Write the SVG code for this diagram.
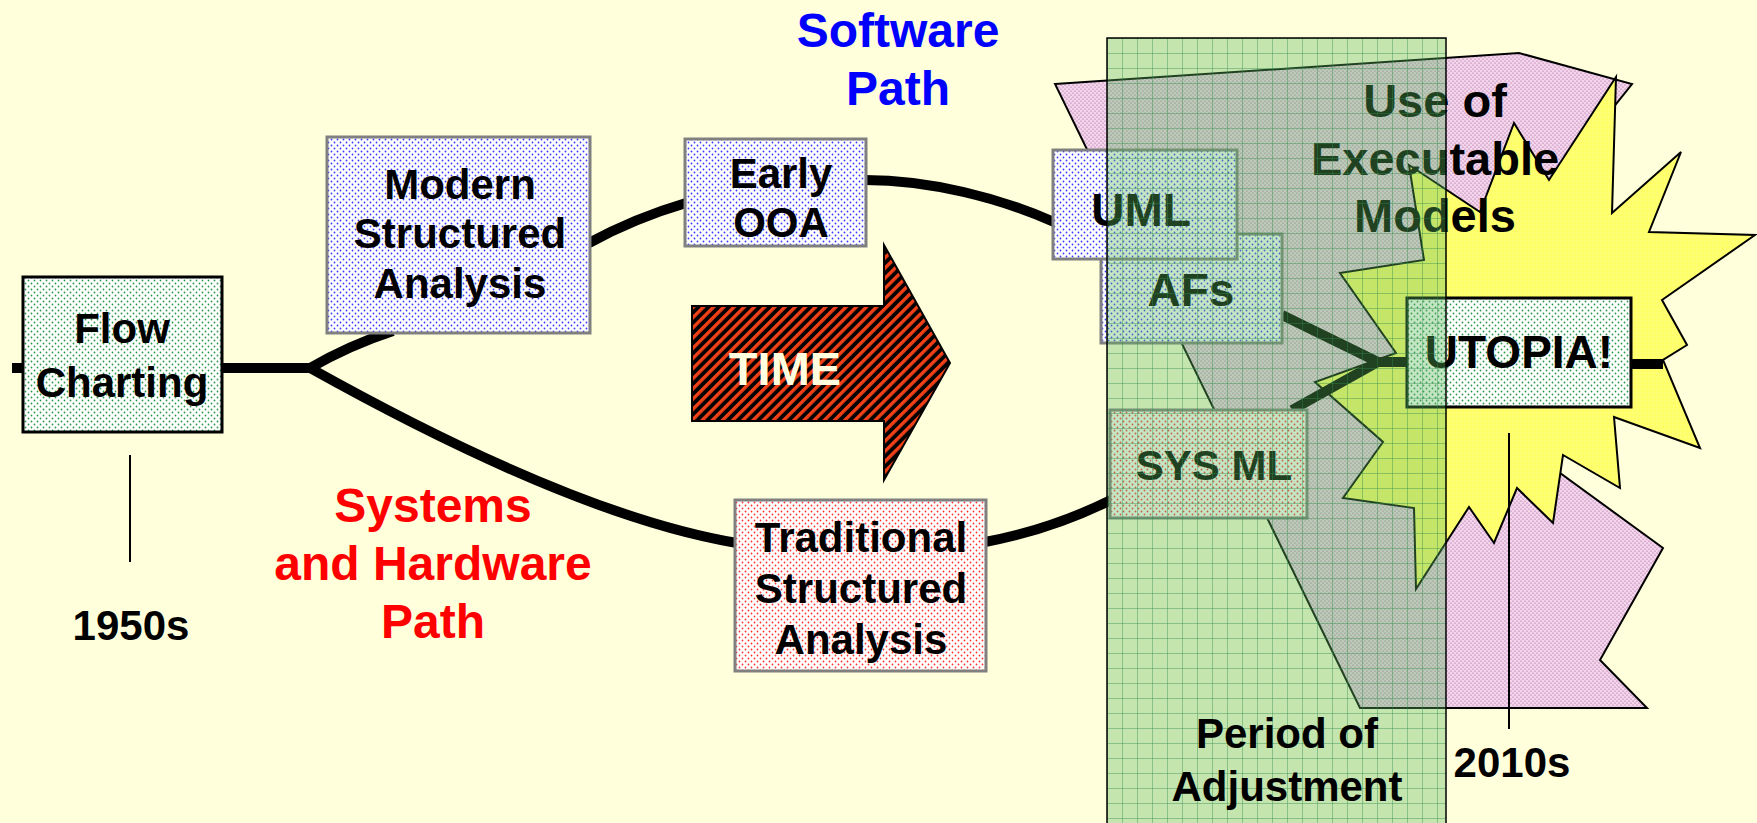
<svg xmlns="http://www.w3.org/2000/svg" width="1757" height="823" viewBox="0 0 1757 823">
<defs>
<style>
.t{font-family:"Liberation Sans",Arial,sans-serif;font-weight:bold;text-anchor:middle}
.n42{font-size:42px}
.n46{font-size:46px}
.n48{font-size:48px}
.conn{fill:none;stroke:#000;stroke-width:10}
.gbox{stroke:#808080;stroke-width:3}
.kbox{stroke:#000;stroke-width:3}
.tick{stroke:#000;stroke-width:2}
</style>
<pattern id="dGreen" width="6" height="6" patternUnits="userSpaceOnUse">
<rect width="6" height="6" fill="#fff"/>
<circle cx="1.5" cy="1.5" r="0.9" fill="#2a9a4a"/>
<circle cx="4.5" cy="4.5" r="0.9" fill="#2a9a4a"/>
</pattern>
<pattern id="dBlue" width="6" height="6" patternUnits="userSpaceOnUse">
<rect width="6" height="6" fill="#fff"/>
<circle cx="1.5" cy="1.5" r="0.9" fill="#3a3aff"/>
<circle cx="4.5" cy="4.5" r="0.9" fill="#3a3aff"/>
</pattern>
<pattern id="dRed" width="6" height="6" patternUnits="userSpaceOnUse">
<rect width="6" height="6" fill="#fff"/>
<circle cx="1.5" cy="1.5" r="0.9" fill="#ff3333"/>
<circle cx="4.5" cy="4.5" r="0.9" fill="#ff3333"/>
</pattern>
<pattern id="dPink" width="4" height="4" patternUnits="userSpaceOnUse">
<rect width="4" height="4" fill="#f3d6ea"/>
<circle cx="1" cy="1" r="0.6" fill="#a04aa0"/>
<circle cx="3" cy="3" r="0.6" fill="#a04aa0"/>
</pattern>
<pattern id="dYellow" width="4" height="4" patternUnits="userSpaceOnUse">
<rect width="4" height="4" fill="#ffff6a"/>
<circle cx="1" cy="1" r="0.6" fill="#ffffb0"/>
</pattern>
<pattern id="stripes" width="7.2" height="7.2" patternUnits="userSpaceOnUse" patternTransform="rotate(45)">
<rect width="7.2" height="7.2" fill="#000"/>
<rect x="0" width="3.4" height="7.2" fill="#f04018"/>
</pattern>
<pattern id="grid" x="1107" y="38" width="15" height="15" patternUnits="userSpaceOnUse">
<rect width="15" height="15" fill="#5cb85c" fill-opacity="0.36"/>
<path d="M0 0.5H15M0.5 0V15" stroke="#2d8a4a" stroke-width="1" stroke-opacity="0.4"/>
</pattern>
</defs>

<rect width="1757" height="823" fill="#FFFFDC"/>

<g id="exec-models-shape">
<polygon points="1055,84 1519,53 1632,84 1409,363 1663,548 1600,660 1647,708 1360,708" fill="url(#dPink)" stroke="#000" stroke-width="2"/>
</g>

<g id="utopia-burst">
<polygon points="1616,77 1612,213 1681,152 1649,232 1755,235 1662,300 1687,345 1663,360 1700,448 1614,417 1620,488 1563,455 1553,523 1517,488 1494,543 1469,507 1416,589 1414,508 1343,498 1383,442 1315,382 1396,353 1340,273 1424,260 1409,165 1480,212 1514,123 1549,180" fill="url(#dYellow)" stroke="#000" stroke-width="2"/>
</g>

<g id="connectors">
<line class="conn" x1="12" y1="368" x2="24" y2="368"/>
<line class="conn" x1="221" y1="368" x2="312" y2="368"/>
<path class="conn" d="M310,368 Q350,345 393,331"/>
<path class="conn" d="M310,368 C430,435 600,520 737,543"/>
<path class="conn" d="M589,243 Q635,218 686,203"/>
<path class="conn" d="M865,180 C930,180 1000,198 1054,222"/>
<path class="conn" d="M985,542 Q1050,530 1111,500"/>
<line class="conn" x1="1282" y1="315" x2="1378" y2="362"/>
<line class="conn" x1="1292" y1="410" x2="1378" y2="362"/>
<line class="conn" x1="1376" y1="362" x2="1408" y2="362"/>
<line class="conn" x1="1630" y1="364" x2="1663" y2="364"/>
</g>

<g id="flow-charting">
<rect x="23" y="277" width="199" height="155" fill="url(#dGreen)" class="kbox"/>
<text class="t n42" x="122" y="343">Flow</text>
<text class="t n42" x="122" y="397">Charting</text>
</g>

<g id="modern-structured-analysis">
<rect x="327" y="137" width="263" height="196" fill="url(#dBlue)" class="gbox"/>
<text class="t n42" x="460" y="199">Modern</text>
<text class="t n42" x="460" y="248">Structured</text>
<text class="t n42" x="460" y="298">Analysis</text>
</g>

<g id="early-ooa">
<rect x="685" y="139" width="181" height="107" fill="url(#dBlue)" class="gbox"/>
<text class="t n42" x="781" y="188">Early</text>
<text class="t n42" x="781" y="237">OOA</text>
</g>

<g id="traditional-structured-analysis">
<rect x="735" y="500" width="251" height="171" fill="url(#dRed)" class="gbox"/>
<text class="t n42" x="861" y="552">Traditional</text>
<text class="t n42" x="861" y="603">Structured</text>
<text class="t n42" x="861" y="654">Analysis</text>
</g>

<g id="time-arrow">
<polygon points="692,306 884,306 884,245 950,363 884,480 884,421 692,421" fill="url(#stripes)" stroke="#000" stroke-width="2"/>
<text class="t" x="785" y="385" font-size="47" fill="#FFFFE0">TIME</text>
</g>

<g id="afs">
<rect x="1101" y="234" width="181" height="109" fill="url(#dBlue)" class="gbox"/>
<text class="t n46" x="1191" y="306">AFs</text>
</g>

<g id="uml">
<rect x="1053" y="150" width="184" height="109" fill="url(#dBlue)" class="gbox"/>
<text class="t n46" x="1141" y="226">UML</text>
</g>

<g id="sys-ml">
<rect x="1110" y="410" width="197" height="108" fill="url(#dRed)" class="gbox"/>
<text class="t n42" x="1214" y="480">SYS ML</text>
</g>

<g id="utopia">
<rect x="1407" y="298" width="224" height="109" fill="url(#dGreen)" class="kbox"/>
<text class="t n46" x="1519" y="368">UTOPIA!</text>
</g>

<g id="exec-models-label">
<text class="t" font-size="47" x="1435" y="117">Use of</text>
<text class="t" font-size="47" x="1435" y="175">Executable</text>
<text class="t" font-size="47" x="1435" y="232">Models</text>
</g>

<g id="period-of-adjustment">
<rect x="1107" y="38" width="339" height="800" fill="url(#grid)" stroke="#000" stroke-width="1.5"/>
<text class="t n42" x="1287" y="748">Period of</text>
<text class="t n42" x="1287" y="801">Adjustment</text>
</g>

<g id="label-1950s">
<line class="tick" x1="130" y1="455" x2="130" y2="562"/>
<text class="t n42" x="131" y="640">1950s</text>
</g>

<g id="label-2010s">
<line class="tick" x1="1509" y1="433" x2="1509" y2="729"/>
<text class="t n42" x="1512" y="777">2010s</text>
</g>

<g id="software-path-label" fill="#0000FF">
<text class="t n48" x="898" y="47">Software</text>
<text class="t n48" x="898" y="105">Path</text>
</g>

<g id="systems-hardware-path-label" fill="#FF0000">
<text class="t n48" x="433" y="522">Systems</text>
<text class="t n48" x="433" y="580">and Hardware</text>
<text class="t n48" x="433" y="638">Path</text>
</g>
</svg>
